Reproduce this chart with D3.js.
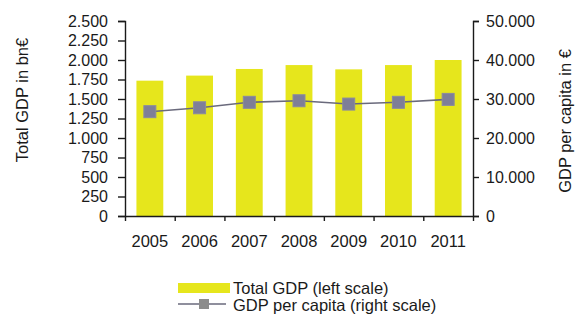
<!DOCTYPE html>
<html>
<head>
<meta charset="utf-8">
<script src="https://cdn.jsdelivr.net/npm/d3@7"></script>
<style>
  body { margin: 0; background: #fff; }
  svg { display: block; font-family: "Liberation Sans", Arial, sans-serif; }
  .axis path, .axis line { stroke: #1a1a1a; stroke-width: 1.4; }
  .axis text { fill: #1a1a1a; font-size: 16px; }
</style>
</head>
<body>
<script>
var years = ["2005", "2006", "2007", "2008", "2009", "2010", "2011"];
var totalGdp = [1735, 1800, 1885, 1935, 1880, 1935, 2000];      // bn €
var gdpPerCapita = [26750, 27750, 29150, 29550, 28700, 29150, 29900]; // €
var leftTicks = [0, 250, 500, 750, 1000, 1250, 1500, 1750, 2000, 2250, 2500];
var rightTicks = [0, 10000, 20000, 30000, 40000, 50000];

var width = 578, height = 321;
// note: "top" is taken by window.top, so plot edges get their own names
var plotLeft = 125, plotRight = 473, plotTop = 21, plotBottom = 216;

var de = d3.formatLocale({decimal: ",", thousands: ".", grouping: [3], currency: ["", "€"]});
var fmt = de.format(",");

var svg = d3.select("body").append("svg")
            .attr("width", width)
            .attr("height", height);

var x = d3.scaleBand()
          .domain(years)
          .range([plotLeft, plotRight])
          .paddingInner(0.46)
          .paddingOuter(0.23);
var yL = d3.scaleLinear().domain([0, 2500]).range([plotBottom, plotTop]);
var yR = d3.scaleLinear().domain([0, 50000]).range([plotBottom, plotTop]);
var xEdge = d3.scaleLinear().domain([0, years.length]).range([plotLeft, plotRight]);

// bars
svg.append("g").selectAll("rect")
   .data(years)
   .enter().append("rect")
   .attr("x", function(d){ return x(d); })
   .attr("y", function(d, i){ return yL(totalGdp[i]); })
   .attr("width", x.bandwidth())
   .attr("height", function(d, i){ return plotBottom - yL(totalGdp[i]); })
   .attr("fill", "#e6e61c");

// axes
svg.append("g").attr("class", "axis")
   .attr("transform", "translate(" + plotLeft + ",0)")
   .call(d3.axisLeft(yL).tickValues(leftTicks).tickFormat(fmt).tickSizeInner(7).tickSizeOuter(7).tickPadding(10));

svg.append("g").attr("class", "axis")
   .attr("transform", "translate(" + plotRight + ",0)")
   .call(d3.axisRight(yR).tickValues(rightTicks).tickFormat(fmt).tickSizeInner(6).tickSizeOuter(6).tickPadding(7));

svg.append("g").attr("class", "axis")
   .attr("transform", "translate(0," + plotBottom + ")")
   .call(d3.axisBottom(xEdge).ticks(years.length).tickFormat("").tickSizeInner(5).tickSizeOuter(0));

var xLab = svg.append("g").attr("class", "axis")
   .attr("transform", "translate(0," + plotBottom + ")")
   .call(d3.axisBottom(x).tickSize(0).tickPadding(19));
xLab.select(".domain").remove();
xLab.selectAll("text").style("font-size", "16.5px");

// per-capita line
var line = d3.line()
             .x(function(d, i){ return x(years[i]) + x.bandwidth() / 2; })
             .y(function(d){ return yR(d); });

svg.append("path")
   .attr("d", line(gdpPerCapita))
   .attr("fill", "none")
   .attr("stroke", "#6a6a7c")
   .attr("stroke-width", 1.6);

var ms = 12;
svg.append("g").selectAll("rect")
   .data(gdpPerCapita)
   .enter().append("rect")
   .attr("x", function(d, i){ return x(years[i]) + x.bandwidth() / 2 - ms / 2; })
   .attr("y", function(d){ return yR(d) - ms / 2; })
   .attr("width", ms)
   .attr("height", ms)
   .attr("fill", "#7e7e98")
   .attr("stroke", "#8a8aa0")
   .attr("stroke-width", 1);

// axis titles
svg.append("text")
   .attr("transform", "translate(28,100) rotate(-90)")
   .attr("text-anchor", "middle")
   .style("font-size", "16.5px")
   .attr("fill", "#1a1a1a")
   .text("Total GDP in bn€");

svg.append("text")
   .attr("transform", "translate(571,121) rotate(-90)")
   .attr("text-anchor", "middle")
   .style("font-size", "16.5px")
   .attr("fill", "#1a1a1a")
   .text("GDP per capita in €");

// legend
var legend = svg.append("g");
legend.append("rect")
      .attr("x", 178).attr("y", 283)
      .attr("width", 52).attr("height", 10)
      .attr("fill", "#e6e61c");
legend.append("text")
      .attr("x", 233).attr("y", 294)
      .style("font-size", "16.5px")
      .attr("fill", "#1a1a1a")
      .text("Total GDP (left scale)");
legend.append("line")
      .attr("x1", 178).attr("x2", 226)
      .attr("y1", 304).attr("y2", 304)
      .attr("stroke", "#6a6a7c").attr("stroke-width", 1.6);
legend.append("rect")
      .attr("x", 199).attr("y", 299)
      .attr("width", 10).attr("height", 10)
      .attr("fill", "#8c8c8c");
legend.append("text")
      .attr("x", 233).attr("y", 311)
      .style("font-size", "16.5px")
      .attr("fill", "#1a1a1a")
      .text("GDP per capita (right scale)");
</script>
</body>
</html>
